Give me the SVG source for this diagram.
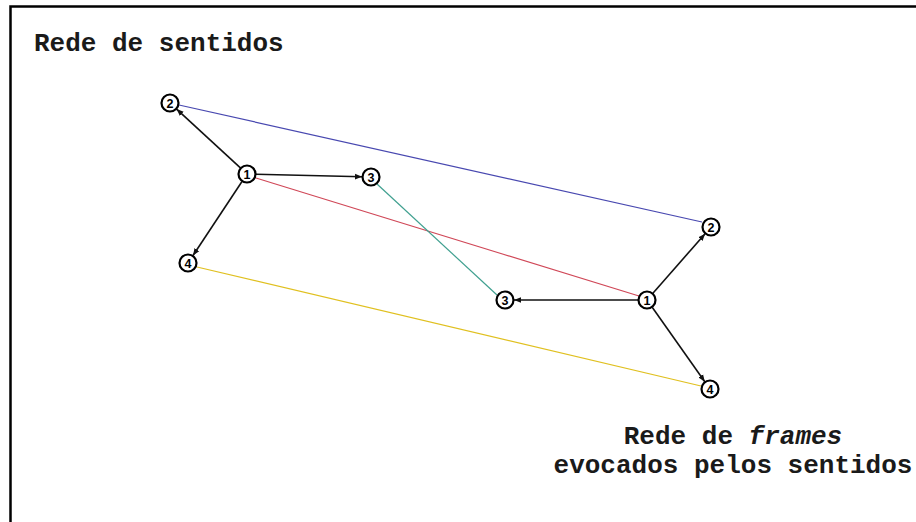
<svg xmlns="http://www.w3.org/2000/svg" width="916" height="522" viewBox="0 0 916 522">
  <style>
    .frame { stroke: #000; stroke-width: 2.5; fill: none; }
    .node circle { fill: #fff; stroke: #000; stroke-width: 2.2; }
    .node text { font-family: "Liberation Sans", Arial, sans-serif; font-size: 12.5px; font-weight: bold; text-anchor: middle; fill: #000; }
    .arrow { stroke: #111; stroke-width: 1.6; fill: none; marker-end: url(#head); }
    .link { stroke-width: 1.2; fill: none; }
    .title { font-family: "Liberation Mono", "Courier New", monospace; font-size: 26px; font-weight: bold; fill: #1a1a1a; }
  </style>
  <defs>
    <marker id="head" viewBox="0 0 10 10" refX="10" refY="5" markerWidth="7" markerHeight="7" markerUnits="userSpaceOnUse" orient="auto">
      <path d="M0,1 L10,5 L0,9 z" fill="#111"/>
    </marker>
  </defs>

  <rect width="916" height="522" fill="#fff"/>
  <!-- open frame: top and left edges -->
  <path class="frame" d="M10.5,522 V6.5 H916"/>

  <text class="title" x="34" y="51">Rede de sentidos</text>
  <text class="title" x="733" y="444" text-anchor="middle">Rede de <tspan font-style="italic">frames</tspan></text>
  <text class="title" x="733" y="473" text-anchor="middle">evocados pelos sentidos</text>

  <g id="connectors">
    <!-- links between the two networks -->
    <line class="link" stroke="#4848b0" x1="179" y1="105" x2="702" y2="222"/>
    <line class="link" stroke="#d04858" x1="256" y1="178" x2="639" y2="296"/>
    <line class="link" stroke="#40a090" x1="377" y1="184" x2="497" y2="295"/>
    <line class="link" stroke="#e0c020" x1="197" y1="267" x2="701" y2="386"/>
    <!-- sense network arrows -->
    <line class="arrow" x1="240.4" y1="167.9" x2="176.6" y2="109.1"/>
    <line class="arrow" x1="256" y1="174.2" x2="362" y2="176.8"/>
    <line class="arrow" x1="242" y1="181.5" x2="193" y2="255.5"/>
    <!-- frame network arrows -->
    <line class="arrow" x1="652.9" y1="293.2" x2="705.1" y2="233.8"/>
    <line class="arrow" x1="638" y1="300" x2="514" y2="300"/>
    <line class="arrow" x1="652.2" y1="307.3" x2="704.8" y2="381.7"/>
  </g>

  <g id="s1" class="node"><circle cx="247" cy="174" r="8.5"/><text x="247" y="178.5">1</text></g>
  <g id="s2" class="node"><circle cx="170" cy="103" r="8.5"/><text x="170" y="107.5">2</text></g>
  <g id="s3" class="node"><circle cx="371" cy="177" r="8.5"/><text x="371" y="181.5">3</text></g>
  <g id="s4" class="node"><circle cx="188" cy="263" r="8.5"/><text x="188" y="267.5">4</text></g>

  <g id="f1" class="node"><circle cx="647" cy="300" r="8.5"/><text x="647" y="304.5">1</text></g>
  <g id="f2" class="node"><circle cx="711" cy="227" r="8.5"/><text x="711" y="231.5">2</text></g>
  <g id="f3" class="node"><circle cx="505" cy="300" r="8.5"/><text x="505" y="304.5">3</text></g>
  <g id="f4" class="node"><circle cx="710" cy="389" r="8.5"/><text x="710" y="393.5">4</text></g>
</svg>
